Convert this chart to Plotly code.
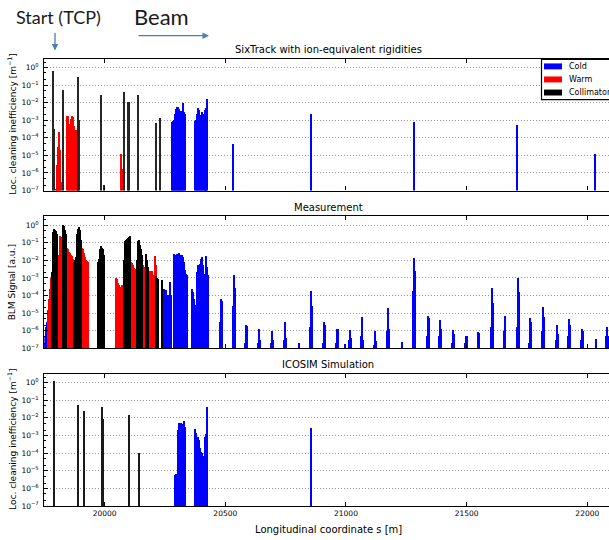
import plotly.graph_objects as go

# ---------------- data ----------------
# Panel 1: SixTrack with ion-equivalent rigidities
six_coll_s = [19788, 19791, 19829, 19891, 19895, 19985, 19999, 20083, 20100, 20104, 20139, 20213, 20230]
six_coll_v = [0.7, 3.5e-4, 0.052, 0.31, 1.0e-3, 0.027, 2e-7, 0.044, 0.012, 0.012, 0.028, 7.4e-4, 1.3e-3]

six_warm_s = [19800, 19803, 19806, 19809, 19812, 19815, 19818, 19821,
              19846, 19850, 19854, 19858, 19862, 19866, 19870, 19874, 19878, 19882, 19886, 19890,
              20069, 20073]
six_warm_v = [1.2e-7, 5e-7, 3e-6, 3e-5, 2.2e-4, 2e-5, 1.7e-5, 3e-7,
              1.9e-3, 1.7e-3, 6e-4, 6.5e-4, 1.2e-3, 1.7e-3, 1.5e-3, 5e-4, 2.6e-4, 2.8e-4, 3e-4, 3.2e-4,
              1.3e-5, 1.8e-6]

six_cold_s = [20280, 20284, 20288, 20292, 20296, 20300, 20304, 20308, 20312, 20316, 20320, 20324, 20328, 20332, 20335,
              20376, 20380, 20384, 20388, 20392, 20396, 20400, 20404, 20408, 20412, 20416, 20420, 20424, 20428,
              20535, 20856, 21284, 21711, 22032]
six_cold_v = [8e-4, 9e-4, 1.0e-3, 2.5e-3, 4.5e-3, 5.5e-3, 5.5e-3, 4.5e-3, 4e-3, 3.5e-3, 3.5e-3, 3e-3, 1e-2, 3e-3, 2.5e-3,
              9e-4, 1.1e-3, 2.5e-3, 5e-3, 4e-3, 1.2e-3, 2e-3, 3.2e-3, 2.5e-3, 7e-4, 4e-3, 5e-3, 4e-3, 1.6e-2,
              4.4e-5, 2.3e-3, 8e-4, 5.5e-4, 1.3e-5]

# Panel 2: Measurement (BLM signal)
meas_coll_s = [19784, 19787, 19790, 19793, 19796, 19799, 19802, 19805,
               19828, 19831, 19834, 19837, 19840, 19843,
               19877, 19880, 19883, 19886, 19889, 19892, 19895, 19898, 19901, 19906,
               19976, 19979, 19982, 19985, 19988, 19991, 19994, 19997, 20000,
               20081, 20084, 20087, 20090, 20093, 20096, 20099, 20102, 20105, 20108,
               20137, 20140, 20143, 20146, 20149, 20152, 20155, 20158,
               20175, 20179, 20183,
               20216, 20220, 20224,
               20241]
meas_coll_v = [2e-3, 0.05, 0.37, 0.57, 0.5, 0.45, 0.24, 0.3,
               0.3, 1.0, 0.9, 0.5, 0.3, 0.15,
               0.008, 0.01, 0.015, 0.03, 0.3, 0.6, 0.8, 0.5, 0.2, 0.13,
               0.008, 0.012, 0.04, 0.06, 0.065, 0.05, 0.04, 0.03, 0.02,
               5e-4, 0.01, 0.12, 0.13, 0.11, 0.15, 0.17, 0.2, 0.22, 0.05,
               0.01, 0.12, 0.14, 0.1, 0.07, 0.04, 0.02, 0.01,
               0.022, 0.01, 4e-3,
               1.3e-3, 1e-3, 8e-4,
               7e-4]

meas_warm_s = [19768, 19772, 19776, 19780,
               19812, 19815, 19818, 19821, 19824,
               19847, 19851, 19855, 19859, 19863, 19867, 19871,
               19910, 19914, 19918, 19922, 19926, 19930, 19933,
               20050, 20054, 20058, 20062, 20066, 20070, 20074,
               20112, 20116, 20120, 20124, 20128, 20132,
               20161, 20165, 20169,
               20188, 20192, 20196, 20200, 20204,
               20210, 20213]
meas_warm_v = [1.4e-5, 6e-5, 2.2e-4, 1e-3,
               0.02, 0.025, 0.23, 0.2, 0.02,
               0.05, 0.045, 0.03, 0.025, 0.02, 0.018, 0.012,
               0.05, 0.04, 0.025, 0.015, 0.01, 0.009, 0.008,
               1e-3, 8e-4, 5e-4, 4e-4, 3e-4, 2.5e-4, 4e-4,
               8e-3, 7e-3, 5e-3, 3.5e-3, 3e-3, 3e-3,
               5e-3, 4e-3, 3e-3,
               2.5e-3, 2e-3, 1.5e-3, 2.5e-3, 1.5e-3,
               0.016, 5e-3]

meas_cold_s = [19750, 19754, 19758, 19762, 19766,
               20248, 20252, 20256, 20260, 20264, 20268, 20272, 20275,
               20289, 20293, 20297, 20301, 20305, 20309, 20313, 20317, 20321, 20325, 20328, 20332, 20337, 20341, 20345,
               20365, 20369, 20373, 20377,
               20386, 20390, 20394, 20398, 20402, 20406, 20410, 20414,
               20421, 20424, 20428, 20432,
               20480, 20484, 20488,
               20533, 20537, 20541,
               20585, 20589, 20593,
               20638, 20642, 20646,
               20693, 20697, 20701,
               20744, 20748, 20752,
               20808,
               20853, 20857, 20861,
               20908, 20912, 20916,
               20959, 20963, 20967,
               20997,
               21013, 21017, 21021,
               21066, 21070, 21074,
               21119, 21123, 21127,
               21173, 21177, 21181,
               21233,
               21281, 21285, 21289,
               21336, 21340, 21344,
               21388, 21392, 21396,
               21440, 21444, 21448,
               21494, 21498, 21502,
               21547, 21551, 21555,
               21603, 21607, 21611,
               21655, 21659, 21663,
               21710, 21714, 21718,
               21760, 21764, 21768,
               21816, 21820, 21824,
               21872, 21876, 21880,
               21922, 21926, 21930,
               21975, 21979, 21983,
               22036,
               22081, 22085, 22089]
meas_cold_v = [2e-7, 5e-7, 1.5e-6, 3e-6, 6e-6,
               2.2e-4, 1.5e-4, 2e-4, 8e-5, 1e-4, 8e-5, 5.6e-4, 1e-4,
               0.022, 0.018, 0.02, 0.022, 0.015, 0.025, 0.02, 0.016, 0.02, 0.012, 0.015, 7.6e-3, 2.6e-3, 1.6e-3, 1.4e-3,
               2.2e-4, 1.5e-4, 6e-5, 3e-5,
               2e-3, 5e-3, 5.5e-3, 6e-3, 0.012, 0.014, 5e-3, 1.7e-3,
               0.012, 0.018, 4e-3, 1.4e-3,
               3e-6, 6e-5, 5e-5,
               2.5e-5, 1.5e-3, 2.5e-4,
               2e-7, 2e-6, 1.8e-6,
               2e-7, 1.3e-6, 3e-7,
               2e-7, 1e-6, 3e-7,
               3e-7, 3e-6, 4e-7,
               2e-7,
               1.5e-6, 1.8e-4, 2.5e-5,
               2e-7, 3e-6, 2e-6,
               2e-7, 1.3e-6, 1.2e-6,
               1.8e-7,
               3e-7, 1.1e-6, 4e-7,
               5e-7, 6e-6, 3e-7,
               1.5e-7, 1e-6, 2.5e-7,
               1e-6, 2e-5, 1.3e-6,
               2.2e-7,
               1.8e-4, 0.013, 2.5e-3,
               5e-7, 7e-6, 5e-6,
               5e-7, 4e-6, 1.3e-6,
               2e-7, 1.1e-6, 6e-7,
               2e-7, 5e-7, 5e-7,
               2e-7, 8.7e-7, 7e-7,
               1.5e-6, 2.5e-4, 3.5e-5,
               1e-6, 7e-6, 1.2e-6,
               1.6e-6, 9e-4, 1.5e-4,
               2e-7, 5.4e-6, 3e-6,
               1e-6, 2.2e-5, 6e-6,
               3e-7, 2.1e-6, 6e-7,
               5e-7, 4.5e-6, 2e-6,
               3e-7, 1.2e-6, 1e-6,
               3.5e-7,
               5e-7, 1.5e-6, 5e-7]

# Panel 3: ICOSIM Simulation
ico_coll_s = [19791, 19892, 19917, 19992, 19996, 20102, 20143]
ico_coll_v = [1.2, 0.054, 0.026, 0.042, 9e-3, 0.014, 1e-4]

ico_cold_s = [20293, 20296, 20299, 20302, 20305, 20308, 20311, 20314, 20317, 20320, 20323, 20326, 20329, 20332, 20335,
              20377, 20381, 20385, 20389, 20393, 20397, 20401, 20405, 20409, 20413, 20417, 20421, 20425, 20428,
              20856]
ico_cold_v = [6e-6, 6e-6, 7e-6, 7e-6, 2e-3, 4.5e-3, 5.5e-3, 5e-3, 4.5e-3, 5.5e-3, 4e-3, 4.5e-3, 5e-3, 6.5e-3, 3e-3,
              2.3e-3, 1.5e-3, 8.5e-4, 8e-4, 6e-4, 2e-4, 1.2e-4, 1e-4, 7e-5, 3e-5, 8e-4, 1.3e-3, 2e-3, 0.04,
              2.9e-3]

panel_titles = ["SixTrack with ion-equivalent rigidities", "Measurement", "ICOSIM Simulation"]
y_titles = ["Loc. cleaning inefficiency [m<sup>−1</sup>]", "BLM Signal [a.u.]",
            "Loc. cleaning inefficiency [m<sup>−1</sup>]"]
x_title = "Longitudinal coordinate s [m]"
x_ticks = [20000, 20500, 21000, 21500, 22000]
x_ticktext = ["20000", "20500", "21000", "21500", "22000"]
y_exps = [-7, -6, -5, -4, -3, -2, -1, 0]
legend_names = ["Cold", "Warm", "Collimator"]

# ---------------- style ----------------
W, H = 609, 540
COLD, WARM, COLL = "#0000ff", "#ff0000", "#000000"
FONT = "DejaVu Sans"

def px(x):
    return x / W

def py(y):
    return 1 - y / H

panels = [(59.3, 192.3), (218.3, 351.7), (377.3, 510.7)]
x_left = 44.3

fig = go.Figure()

def add_bars(s, v, color, ax, name, opacity=1.0):
    fig.add_trace(go.Bar(x=s, y=v, xaxis="x" + ax, yaxis="y" + ax, name=name,
                         marker=dict(color=color, line=dict(width=0)), opacity=opacity,
                         width=5.5, showlegend=False))

add_bars(six_cold_s, six_cold_v, COLD, "", "Cold")
add_bars(six_warm_s, six_warm_v, WARM, "", "Warm")
add_bars(six_coll_s, six_coll_v, "#262626", "", "Collimator")
add_bars(meas_cold_s, meas_cold_v, COLD, "2", "Cold")
add_bars(meas_warm_s, meas_warm_v, WARM, "2", "Warm")
add_bars(meas_coll_s, meas_coll_v, COLL, "2", "Collimator")
add_bars(ico_cold_s, ico_cold_v, COLD, "3", "Cold")
add_bars(ico_coll_s, ico_coll_v, "#1a1a1a", "3", "Collimator")

layout = dict(width=W, height=H, margin=dict(l=0, r=0, t=0, b=0),
              paper_bgcolor="white", plot_bgcolor="white", barmode="overlay",
              bargap=0, font=dict(family=FONT, color="black"))

tickvals = [10.0 ** e for e in y_exps]
ticktext = ["10<sup>%s</sup>" % (("−%d" % -e) if e < 0 else "%d" % e) for e in y_exps]

for i, (top, bot) in enumerate(panels):
    suf = "" if i == 0 else str(i + 1)
    dom_y = [py(bot), py(top)]
    layout["xaxis" + suf] = dict(domain=[px(x_left), 1], range=[19750, 22090], anchor="y" + suf,
                                  showline=True, linecolor="black", linewidth=1.2, mirror="ticks",
                                  ticks="inside", ticklen=4, tickcolor="black",
                                  tickvals=x_ticks, ticktext=x_ticktext,
                                  showgrid=False, zeroline=False,
                                  showticklabels=(i == 2), tickfont=dict(size=7.5, family=FONT))
    layout["yaxis" + suf] = dict(domain=dom_y, type="log", range=[-7, 0.5], anchor="x" + suf,
                                  showline=True, linecolor="black", linewidth=1.2,
                                  ticks="inside", ticklen=4, tickcolor="black",
                                  tickvals=tickvals, ticktext=ticktext, tickfont=dict(size=7.5, family=FONT),
                                  ticklabelstandoff=3,
                                  showgrid=True, gridcolor="#9a9a9a", griddash="1px,2px", gridwidth=1,
                                  zeroline=False,
                                  minor=dict(ticks="inside", ticklen=2, tickcolor="black", showgrid=False))

annotations = []
shapes = []
title_y = [50, 209, 368]
for i, (top, bot) in enumerate(panels):
    annotations.append(dict(text=panel_titles[i], x=px(328), y=py(title_y[i]), xref="paper", yref="paper",
                            showarrow=False, xanchor="center", yanchor="middle",
                            font=dict(size=10, family=FONT)))
    annotations.append(dict(text=y_titles[i], x=px(12), y=py((top + bot) / 2), xref="paper", yref="paper",
                            showarrow=False, textangle=-90, xanchor="center", yanchor="middle",
                            font=dict(size=9, family=FONT)))

annotations.append(dict(text=x_title, x=px(328), y=py(534), xref="paper", yref="paper",
                        showarrow=False, xanchor="center", yanchor="middle", font=dict(size=10, family=FONT)))

# header labels and arrows
annotations.append(dict(text="Start (TCP)", x=px(58), y=py(17), xref="paper", yref="paper",
                        showarrow=False, xanchor="center", yanchor="middle",
                        font=dict(size=18, family="Lato", color="#1a1a1a")))
annotations.append(dict(text="Beam", x=px(161), y=py(17), xref="paper", yref="paper",
                        showarrow=False, xanchor="center", yanchor="middle",
                        font=dict(size=22, family="Lato", color="#1a1a1a")))
annotations.append(dict(text="", x=px(55), y=py(51), xref="paper", yref="paper", showarrow=True,
                        ax=0, ay=-19, arrowhead=2, arrowsize=1, arrowwidth=1.3, arrowcolor="#4a7ebb"))
annotations.append(dict(text="", x=px(209), y=py(36), xref="paper", yref="paper", showarrow=True,
                        ax=-72, ay=0, arrowhead=2, arrowsize=1, arrowwidth=1.3, arrowcolor="#4a7ebb"))

# legend box (panel 1, upper right)
shapes.append(dict(type="rect", xref="paper", yref="paper", x0=px(541.5), x1=px(612), y0=py(100.5), y1=py(60),
                   line=dict(color="black", width=1.2), fillcolor="white", layer="above"))
legend_colors = [COLD, WARM, COLL]
for k, name in enumerate(legend_names):
    yc = 67 + 13.2 * k
    shapes.append(dict(type="rect", xref="paper", yref="paper", x0=px(544), x1=px(562),
                       y0=py(yc + 3), y1=py(yc - 3), line=dict(width=0), fillcolor=legend_colors[k],
                       layer="above"))
    annotations.append(dict(text=name, x=px(567), y=py(yc), xref="paper", yref="paper", showarrow=False,
                            xanchor="left", yanchor="middle", font=dict(size=8, family=FONT)))

layout["annotations"] = annotations
layout["shapes"] = shapes
fig.update_layout(**layout)
fig.write_html("out.html")
